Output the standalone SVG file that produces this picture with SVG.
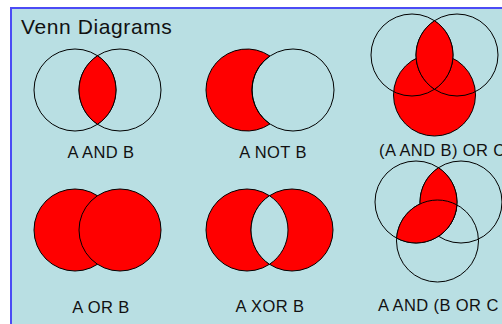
<svg xmlns="http://www.w3.org/2000/svg" width="502" height="324" viewBox="0 0 502 324">
  <style>
    .panel { fill: #b9dfe3; stroke: #4b4bf5; stroke-width: 2; }
    .ring { fill: none; stroke: #000; stroke-width: 1; }
    .on { fill: #ff0000; stroke: #000; stroke-width: 1; }
    .off { fill: #b9dfe3; stroke: #000; stroke-width: 1; }
    .title { font-family: "Liberation Sans", Arial, sans-serif; font-size: 21px; letter-spacing: 0.6px; fill: #111; }
    .label { font-family: "Liberation Sans", Arial, sans-serif; font-size: 16.5px; letter-spacing: 0.4px; fill: #111; }
  </style>

  <rect width="502" height="324" fill="#fff"/>
  <rect class="panel" x="11" y="8" width="500" height="330"/>

  <text class="title" x="21" y="34">Venn Diagrams</text>

  <!-- A AND B -->
  <g id="a-and-b">
    <circle class="ring" cx="75" cy="90" r="41"/>
    <circle class="ring" cx="120" cy="90" r="41"/>
    <path class="on" d="M97.5 55.73 A41 41 0 0 1 97.5 124.27 A41 41 0 0 1 97.5 55.73 Z"/>
    <text class="label" x="101" y="158" text-anchor="middle">A AND B</text>
  </g>

  <!-- A NOT B -->
  <g id="a-not-b">
    <path class="on" d="M270 56.06 A41 41 0 1 0 270 123.94 A41 41 0 0 1 270 56.06 Z"/>
    <circle class="ring" cx="293" cy="90" r="41"/>
    <text class="label" x="273" y="158" text-anchor="middle">A NOT B</text>
  </g>

  <!-- (A AND B) OR C -->
  <g id="ab-or-c">
    <circle class="on" cx="434.5" cy="95" r="41"/>
    <circle class="ring" cx="412" cy="55" r="41"/>
    <circle class="ring" cx="457" cy="55" r="41"/>
    <path class="on" d="M434.5 20.73 A41 41 0 0 1 434.5 89.27 A41 41 0 0 1 434.5 20.73 Z"/>
    <text class="label" x="379" y="156">(A AND B) OR C</text>
  </g>

  <!-- A OR B -->
  <g id="a-or-b">
    <circle class="on" cx="75" cy="230" r="41"/>
    <circle class="on" cx="120" cy="230" r="41"/>
    <text class="label" x="101" y="313" text-anchor="middle">A OR B</text>
  </g>

  <!-- A XOR B -->
  <g id="a-xor-b">
    <circle class="on" cx="247" cy="230" r="41"/>
    <circle class="on" cx="292" cy="230" r="41"/>
    <path class="off" d="M269.5 195.73 A41 41 0 0 1 269.5 264.27 A41 41 0 0 1 269.5 195.73 Z"/>
    <text class="label" x="270" y="312" text-anchor="middle">A XOR B</text>
  </g>

  <!-- A AND (B OR C) -->
  <g id="a-and-b-or-c">
    <circle class="ring" cx="416" cy="202" r="41"/>
    <circle class="ring" cx="461" cy="202" r="41"/>
    <circle class="ring" cx="437.5" cy="241" r="41"/>
    <path class="on" d="M438.5 167.73 A41 41 0 0 1 438.5 236.27 A41 41 0 0 1 438.5 167.73 Z"/>
    <path class="on" d="M396.6 238.1 A41 41 0 0 1 456.9 204.9 A41 41 0 0 1 396.6 238.1 Z"/>
    <text class="label" x="378" y="311">A AND (B OR C</text>
  </g>
</svg>
